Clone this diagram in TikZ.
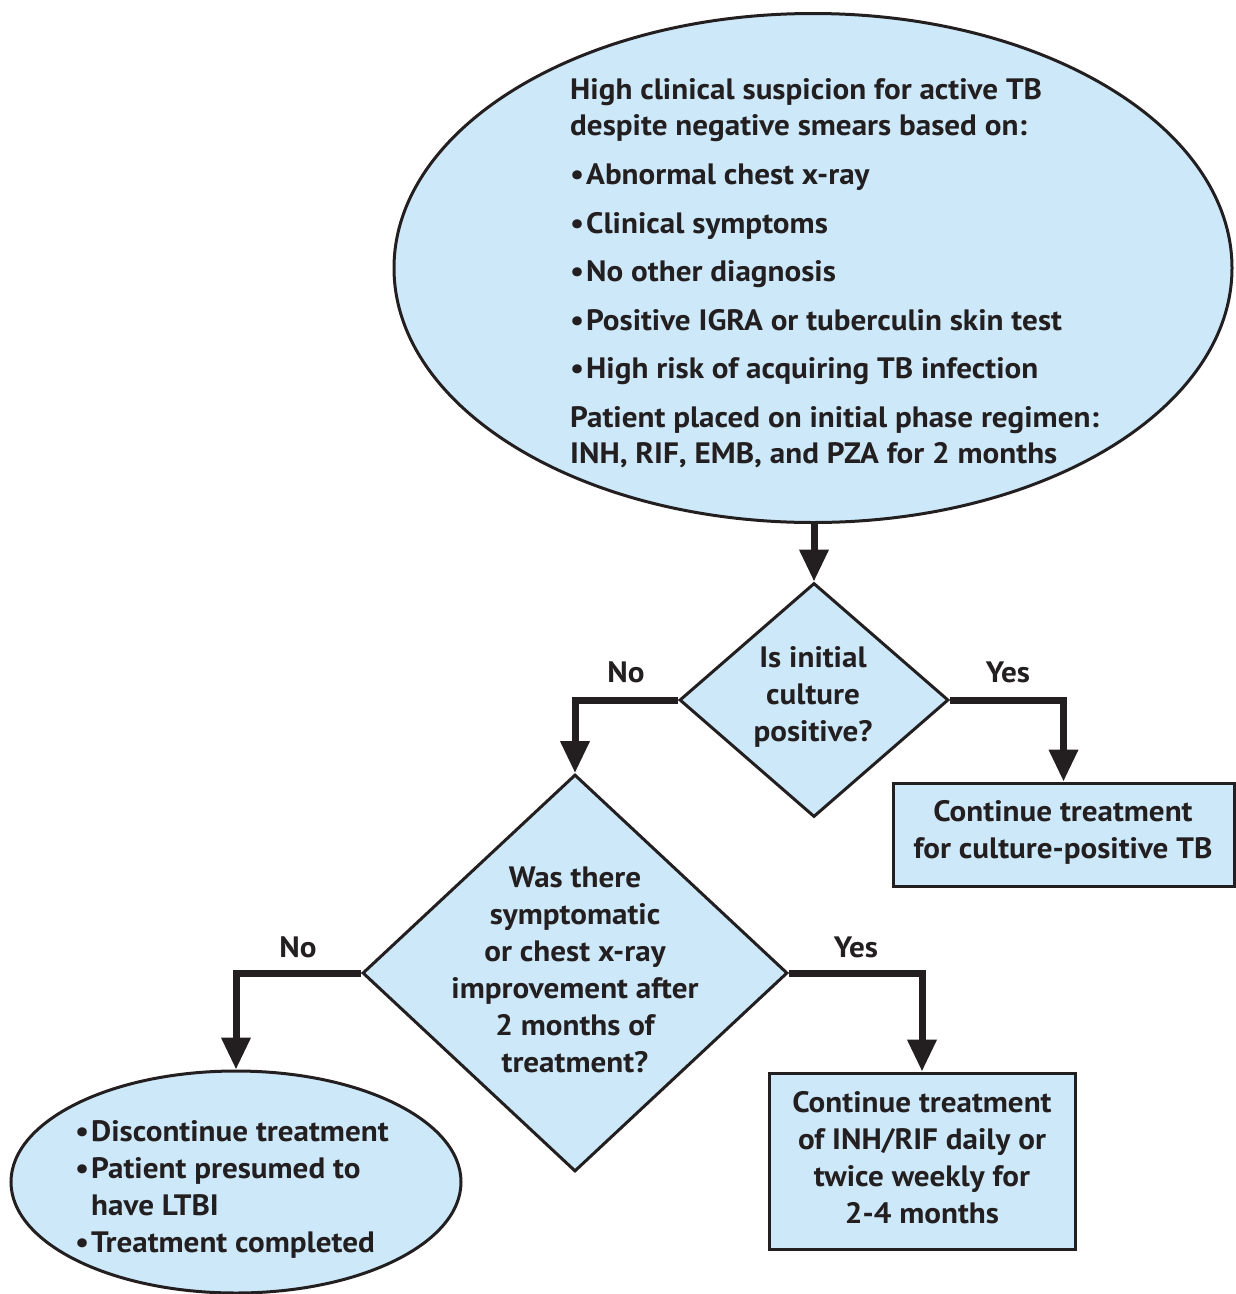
\documentclass[tikz,border=0pt]{standalone}
\usepackage{fontspec}
\setmainfont{PT Sans}[FakeStretch=1.055]
\usetikzlibrary{shapes.geometric,arrows.meta}
\definecolor{fillblue}{RGB}{205,233,249}
\definecolor{ink}{RGB}{35,31,32}
\newcommand\bl{\makebox[16pt][l]{•}}
\begin{document}
\begin{tikzpicture}[x=1pt,y=-1pt,
  shapebox/.style={draw=ink,fill=fillblue,line width=3pt,inner sep=0pt},
  txt/.style={text=ink,inner sep=0pt,font=\fontsize{29.5}{37}\bfseries\selectfont},
  arr/.style={draw=ink,line width=7pt,-{Triangle[width=28pt,length=32pt]}},
  lbl/.style={text=ink,inner sep=0pt,font=\fontsize{29.5}{37}\bfseries\selectfont}]
\useasboundingbox (0,0) rectangle (1236,1294);
% shapes
\node[shapebox,ellipse,minimum width=838pt,minimum height=509pt] (top) at (813,268) {};
\node[shapebox,diamond,minimum width=269pt,minimum height=234pt] (d1) at (814,700) {};
\node[shapebox,rectangle,minimum width=341pt,minimum height=103pt] (b1) at (1063.5,834.5) {};
\node[shapebox,diamond,minimum width=425pt,minimum height=397pt] (d2) at (575,973) {};
\node[shapebox,rectangle,minimum width=306pt,minimum height=176pt] (b2) at (922,1161) {};
\node[shapebox,ellipse,minimum width=450pt,minimum height=222pt] (bot) at (236,1182) {};
% texts
\node[txt,align=left,anchor=west] (toptext) at (570,273) {High clinical suspicion for active TB\\[-1pt]
despite negative smears based on:\\[12pt]
\bl Abnormal chest x-ray\\[11.5pt]
\bl Clinical symptoms\\[11.5pt]
\bl No other diagnosis\\[11.5pt]
\bl Positive IGRA or tuberculin skin test\\[11.5pt]
\bl High risk of acquiring TB infection\\[11.5pt]
Patient placed on initial phase regimen:\\[-1pt]
INH, RIF, EMB, and PZA for 2 months};
\node[txt,align=center] (d1text) at (813,697) {Is initial\\culture\\positive?};
\node[txt,align=center] (b1text) at (1063,832) {Continue treatment\\for culture-positive TB};
\node[txt,align=center] (d2text) at (575,970) {Was there\\symptomatic\\or chest x-ray\\improvement after\\2 months of\\treatment?};
\node[txt,align=center] (b2text) at (922,1158) {Continue treatment\\of INH/RIF daily or\\twice weekly for\\2-4 months};
\node[txt,align=left,anchor=west] (bottext) at (75,1189) {\bl Discontinue treatment\\
\bl Patient presumed to\\
\hphantom{\bl}have LTBI\\
\bl Treatment completed};
% connectors
\draw[arr] (d1.north |- top.south) -- (d1.north);
\draw[arr] (d1.west) -| (d2.north);
\draw[arr] (d1.east) -| (b1.north);
\draw[arr] (d2.west) -| (bot.north);
\draw[arr] (d2.east) -| (b2.north);
% labels
\node[lbl] (no1) at (626,672) {No};
\node[lbl] (yes1) at (1008,672) {Yes};
\node[lbl] (no2) at (298,947) {No};
\node[lbl] (yes2) at (856,947) {Yes};
\end{tikzpicture}
\end{document}
